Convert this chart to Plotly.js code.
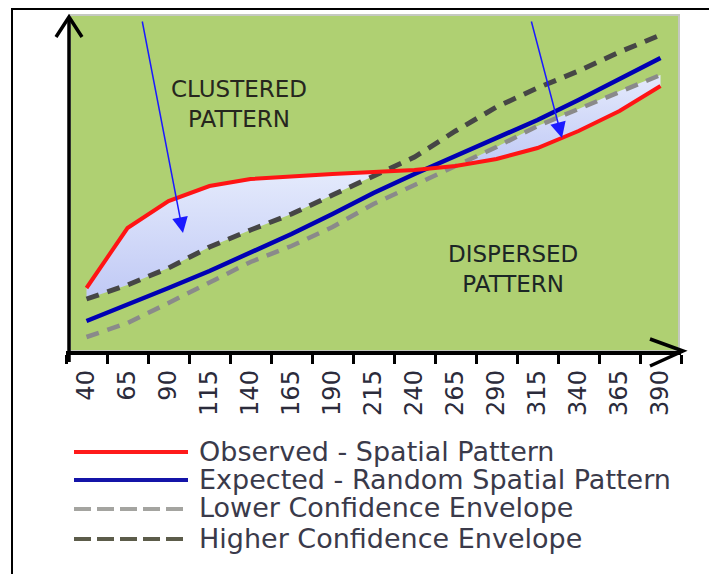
<!DOCTYPE html>
<html>
<head>
<meta charset="utf-8">
<script src="https://cdn.plot.ly/plotly-3.0.1.min.js"></script>
<style>
html,body{margin:0;padding:0;background:#fff;}
#chart{width:709px;height:574px;}
</style>
</head>
<body>
<div id="chart"></div>
<script>
// ---- data (arbitrary vertical units) ----
const categories = ['40','65','90','115','140','165','190','215','240','265','290','315','340','365','390'];
const observed  = [61, 121, 148, 163, 170, 173, 175, 177, 179, 183, 190, 201, 218, 238, 263];
const expected  = [28, 44, 61, 78, 96, 115, 135, 156, 175, 193, 211, 229, 249, 270, 291];
const lowerEnv  = [12, 26, 46, 67, 87, 103, 122, 145, 164, 182, 202, 223, 240, 258, 274];
const higherEnv = [50, 64, 81, 102, 119, 135, 154, 173, 192, 218, 242, 261, 278, 297, 314];
const seriesNames = ['Observed - Spatial Pattern','Expected - Random Spatial Pattern','Lower Confidence Envelope','Higher Confidence Envelope'];
const regionLabels = ['CLUSTERED<br>PATTERN','DISPERSED<br>PATTERN'];
const clusteredEnd = 8;   // categories 40..215
const dispersedStart = 9; // categories 265..390

// ---- layout helpers (pixel -> paper) ----
const L = 66, T = 15, W = 615, H = 336;
const px = x => (x - L) / W;
const py = y => (T + H - y) / H;

const fillStyle = {
  type: 'vertical',
  colorscale: [[0, 'rgb(192,201,245)'], [1, 'rgb(228,234,252)']]
};

const traces = [
  {x: categories.slice(0, clusteredEnd), y: higherEnv.slice(0, clusteredEnd), mode: 'lines',
   line: {width: 0}, hoverinfo: 'skip', showlegend: false},
  {x: categories.slice(0, clusteredEnd), y: observed.slice(0, clusteredEnd), mode: 'lines',
   line: {width: 0}, fill: 'tonexty', fillcolor: 'rgb(215,224,250)', fillgradient: fillStyle,
   hoverinfo: 'skip', showlegend: false},
  {x: categories.slice(dispersedStart), y: observed.slice(dispersedStart), mode: 'lines',
   line: {width: 0}, hoverinfo: 'skip', showlegend: false},
  {x: categories.slice(dispersedStart), y: lowerEnv.slice(dispersedStart), mode: 'lines',
   line: {width: 0}, fill: 'tonexty', fillcolor: 'rgb(215,224,250)', fillgradient: fillStyle,
   hoverinfo: 'skip', showlegend: false},
  {x: categories, y: lowerEnv, name: seriesNames[2], mode: 'lines',
   line: {color: '#8a8a8a', width: 4.5, dash: '13px,9px'}},
  {x: categories, y: higherEnv, name: seriesNames[3], mode: 'lines',
   line: {color: '#464646', width: 5, dash: '13px,9px'}},
  {x: categories, y: expected, name: seriesNames[1], mode: 'lines',
   line: {color: '#0000b4', width: 4.5}},
  {x: categories, y: observed, name: seriesNames[0], mode: 'lines',
   line: {color: '#ff1414', width: 4}}
];

const legendRows = [452, 480, 509, 539];
const legendLines = [
  {color: '#ff1a1a', dash: 'solid'},
  {color: '#1414a8', dash: 'solid'},
  {color: '#a4a4a0', dash: '17px,6px'},
  {color: '#5c5c4a', dash: '17px,6px'}
];

const shapes = [
  // outer frame
  {type: 'rect', xref: 'paper', yref: 'paper', x0: px(12), x1: px(740), y0: py(9), y1: py(600),
   line: {color: '#000', width: 2}, layer: 'below'},
  // green plot area
  {type: 'rect', xref: 'paper', yref: 'paper', x0: px(70), x1: px(679), y0: py(15), y1: py(351),
   fillcolor: 'rgb(175,208,114)', line: {color: '#c4c8c0', width: 2}, layer: 'below'},
  // y axis line
  {type: 'line', xref: 'paper', yref: 'paper', x0: px(69), x1: px(69), y0: py(362), y1: py(18),
   line: {color: '#000', width: 3.5}},
  // y arrowhead
  {type: 'path', xref: 'paper', yref: 'paper',
   path: `M${px(56)},${py(37)} L${px(69)},${py(17)} L${px(82)},${py(37)}`,
   line: {color: '#000', width: 3.5}},
  // x arrowhead
  {type: 'path', xref: 'paper', yref: 'paper',
   path: `M${px(650)},${py(339)} L${px(683)},${py(351)} L${px(650)},${py(366)}`,
   line: {color: '#000', width: 3.5}}
];
legendRows.forEach((r, i) => {
  shapes.push({type: 'line', xref: 'paper', yref: 'paper', x0: px(74), x1: px(188), y0: py(r), y1: py(r),
    line: {color: legendLines[i].color, width: 4, dash: legendLines[i].dash}});
});

const annotations = [
  {xref: 'paper', yref: 'paper', x: px(239), y: py(104), text: regionLabels[0], showarrow: false,
   xanchor: 'center', yanchor: 'middle', font: {family: 'DejaVu Sans', size: 23, color: '#26261e'}},
  {xref: 'paper', yref: 'paper', x: px(513), y: py(269), text: regionLabels[1], showarrow: false,
   xanchor: 'center', yanchor: 'middle', font: {family: 'DejaVu Sans', size: 23, color: '#1c2626'}},
  {xref: 'paper', yref: 'paper', x: px(183), y: py(233), text: '', showarrow: true,
   ax: -41, ay: -213, arrowhead: 2, arrowsize: 2.1, arrowwidth: 1.5, arrowcolor: '#1a1aff', standoff: 0},
  {xref: 'paper', yref: 'paper', x: px(562), y: py(138), text: '', showarrow: true,
   ax: -31, ay: -118, arrowhead: 2, arrowsize: 2.1, arrowwidth: 1.5, arrowcolor: '#1a1aff', standoff: 0}
];
legendRows.forEach((r, i) => {
  annotations.push({xref: 'paper', yref: 'paper', x: px(197), y: py(r - 1), text: seriesNames[i],
    showarrow: false, xanchor: 'left', yanchor: 'middle',
    font: {family: 'DejaVu Sans', size: 27, color: '#3a3a4a'}});
});

const layout = {
  width: 709, height: 574,
  margin: {l: L, r: 709 - L - W, t: T, b: 574 - T - H, pad: 0},
  paper_bgcolor: '#fff', plot_bgcolor: 'rgba(0,0,0,0)',
  showlegend: false,
  xaxis: {
    type: 'category', categoryorder: 'array', categoryarray: categories,
    range: [-0.5, 14.5], showgrid: false, zeroline: false,
    showline: true, linecolor: '#000', linewidth: 3.5,
    ticks: 'outside', tickson: 'boundaries', ticklen: 9, tickwidth: 3, tickcolor: '#000',
    tickangle: -90, ticklabelstandoff: 6,
    tickfont: {family: 'DejaVu Sans', size: 24, color: '#2b2b3b'}, fixedrange: true
  },
  yaxis: {visible: false, range: [-2, 334], fixedrange: true},
  shapes: shapes,
  annotations: annotations
};

Plotly.newPlot('chart', traces, layout, {displayModeBar: false, staticPlot: true});
</script>
</body>
</html>
